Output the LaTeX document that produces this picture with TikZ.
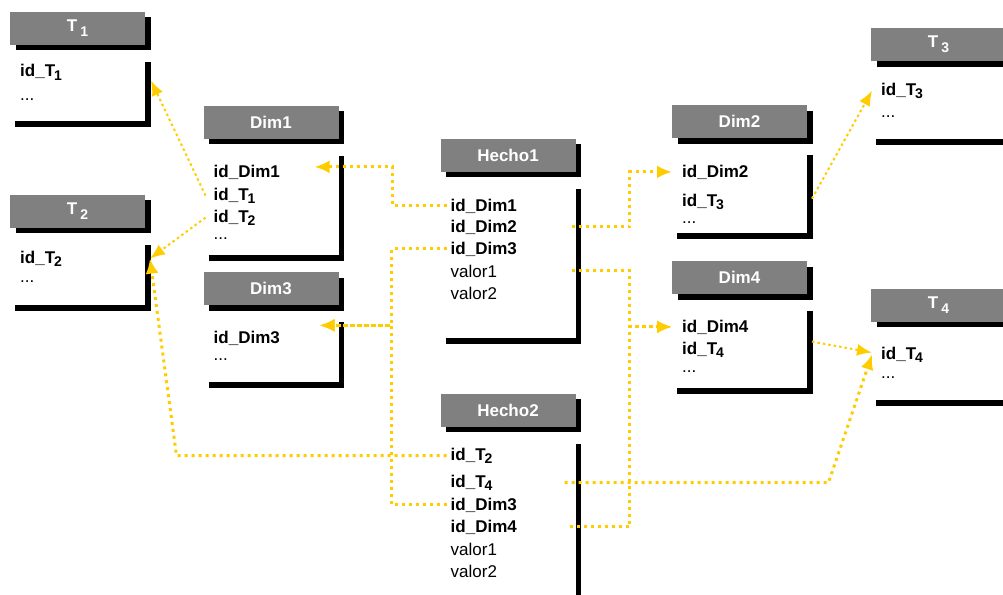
\documentclass[tikz,border=0pt]{standalone}
\usepackage{fontspec}
\setmainfont{Liberation Sans}
\usetikzlibrary{arrows.meta,shadows}
\definecolor{oro}{RGB}{255,204,0}
\definecolor{gris}{RGB}{128,128,128}
\newcommand{\fsz}{\fontsize{17}{20}\selectfont}
\newcommand{\sbi}[1]{\kern-1pt\raisebox{-3.5pt}{\fontsize{14}{14}\selectfont #1}}
\newcommand{\sbh}[1]{\kern3pt\raisebox{-5pt}{\fontsize{14}{14}\selectfont #1}}

\begin{document}
\begin{tikzpicture}[x=1pt, y=-1pt,
    cab/.style = {fill=gris, text=white, font=\fsz\bfseries, minimum width=135pt,
                  minimum height=33pt, inner sep=0pt,
                  drop shadow={shadow xshift=5.5pt, shadow yshift=-5.5pt, fill=black, opacity=1}},
    marco/.style = {line width=5.5pt},
    campo/.style = {anchor=base west, inner sep=0pt, font=\fsz\bfseries},
    valor/.style = {anchor=base west, inner sep=0pt, font=\fsz},
    enlace/.style = {draw=oro, line width=3pt, dash pattern=on 3pt off 4pt,
                     -{Latex[length=15pt,width=13pt]}},
    fino/.style = {draw=oro, line width=2pt, dash pattern=on 2.5pt off 3pt,
                   -{Latex[length=15pt,width=12pt]}}]
    \clip (0,0) rectangle (1003,594);

    % Tablas T1, T2
    \node[cab] (T1) at (77.5,28.5) {T\sbh{1}};
    \draw[marco] (15,124) -| (148,62);
    \node[campo] (t1a) at (20,77) {id\_T\sbi{1}};
    \node[valor] (t1b) at (20,100) {...};

    \node[cab] (T2) at (77.5,211) {T\sbh{2}};
    \draw[marco] (15,308) -| (148,244.5);
    \node[campo] (t2a) at (20,263) {id\_T\sbi{2}};
    \node[valor] (t2b) at (20,282) {...};

    % Dim1, Dim3
    \node[cab] (Dim1) at (271,122) {Dim1};
    \draw[marco] (208.5,258) -| (341.5,155.5);
    \node[campo] (d1a) at (213.5,177) {id\_Dim1};
    \node[campo] (d1b) at (213.5,200) {id\_T\sbi{1}};
    \node[campo] (d1c) at (213.5,222) {id\_T\sbi{2}};
    \node[valor] (d1d) at (213.5,239) {...};

    \node[cab] (Dim3) at (271,288.5) {Dim3};
    \draw[marco] (208.5,385) -| (341.5,322);
    \node[campo] (d3a) at (213.5,343) {id\_Dim3};
    \node[valor] (d3b) at (213.5,360) {...};

    % Hechos
    \node[cab] (Hecho1) at (508,155) {Hecho1};
    \draw[marco] (445.5,341) -| (578.5,188.5);
    \node[campo] (h1a) at (450.5,211) {id\_Dim1};
    \node[campo] (h1b) at (450.5,232) {id\_Dim2};
    \node[campo] (h1c) at (450.5,254) {id\_Dim3};
    \node[valor] (h1d) at (450.5,277) {valor1};
    \node[valor] (h1e) at (450.5,299) {valor2};

    \node[cab] (Hecho2) at (508,410) {Hecho2};
    \draw[marco] (445.5,620) -| (578.5,443.5);
    \node[campo] (h2a) at (450.5,460) {id\_T\sbi{2}};
    \node[campo] (h2b) at (450.5,487) {id\_T\sbi{4}};
    \node[campo] (h2c) at (450.5,510) {id\_Dim3};
    \node[campo] (h2d) at (450.5,532) {id\_Dim4};
    \node[valor] (h2e) at (450.5,555) {valor1};
    \node[valor] (h2f) at (450.5,577) {valor2};

    % Dim2, Dim4
    \node[cab] (Dim2) at (739.5,121.5) {Dim2};
    \draw[marco] (677,236) -| (810,155);
    \node[campo] (d2a) at (682,177) {id\_Dim2};
    \node[campo] (d2b) at (682,206) {id\_T\sbi{3}};
    \node[valor] (d2c) at (682,223) {...};

    \node[cab] (Dim4) at (739.5,277.5) {Dim4};
    \draw[marco] (677,391) -| (810,311);
    \node[campo] (d4a) at (682,332) {id\_Dim4};
    \node[campo] (d4b) at (682,354) {id\_T\sbi{4}};
    \node[valor] (d4c) at (682,372) {...};

    % Tablas T3, T4
    \node[cab] (T3) at (938.5,44.5) {T\sbh{3}};
    \draw[marco] (876,142) -| (1009,78);
    \node[campo] (t3a) at (881,95) {id\_T\sbi{3}};
    \node[valor] (t3b) at (881,117) {...};

    \node[cab] (T4) at (938.5,305) {T\sbh{4}};
    \draw[marco] (876,403) -| (1009,338.5);
    \node[campo] (t4a) at (881,359) {id\_T\sbi{4}};
    \node[valor] (t4b) at (881,378) {...};

    % Enlaces
    \draw[enlace] ([xshift=-4pt]h1a.west) -- ++(-54,0) |- ([xshift=101pt,yshift=5pt]d1a.west);
    \draw[enlace] ([xshift=121pt]h1b.west) -- ++(58,0) |- ([xshift=-10pt]d2a.west);
    \draw[enlace] ([xshift=-4pt]h1c.west) -- ++(-55,0) |- ([xshift=106pt,yshift=12.5pt]d3a.west);
    \draw[enlace] ([xshift=-4pt]h2c.west) -- ++(-55,0) |- ([xshift=106pt,yshift=12.5pt]d3a.west);
    \draw[enlace] ([xshift=121pt]h1d.west) -- ++(58,0) |- ([xshift=-10pt]d4a.west);
    \draw[enlace] ([xshift=119pt]h2d.west) -- ++(60,0) |- ([xshift=-10pt]d4a.west);
    \draw[enlace] ([xshift=-4pt]h2a.west) -- ++(-270,0) -- ([xshift=130pt]t2a.west);
    \draw[enlace] ([xshift=114pt]h2b.west) -- ++(264,0) -- ([xshift=-9pt]t4a.west);

    \draw[fino] ([xshift=130pt,yshift=3pt]d2b.west) -- ([xshift=-9pt]t3a.west);
    \draw[fino] ([xshift=130pt,yshift=8pt]d4b.west) -- ([xshift=-9pt,yshift=2pt]t4a.west);
    \draw[fino] ([xshift=-8pt]d1b.west) -- ([xshift=131pt,yshift=-8pt]t1a.west);
    \draw[fino] ([xshift=-8pt]d1c.west) -- ([xshift=130pt]t2a.west);
\end{tikzpicture}
\end{document}
